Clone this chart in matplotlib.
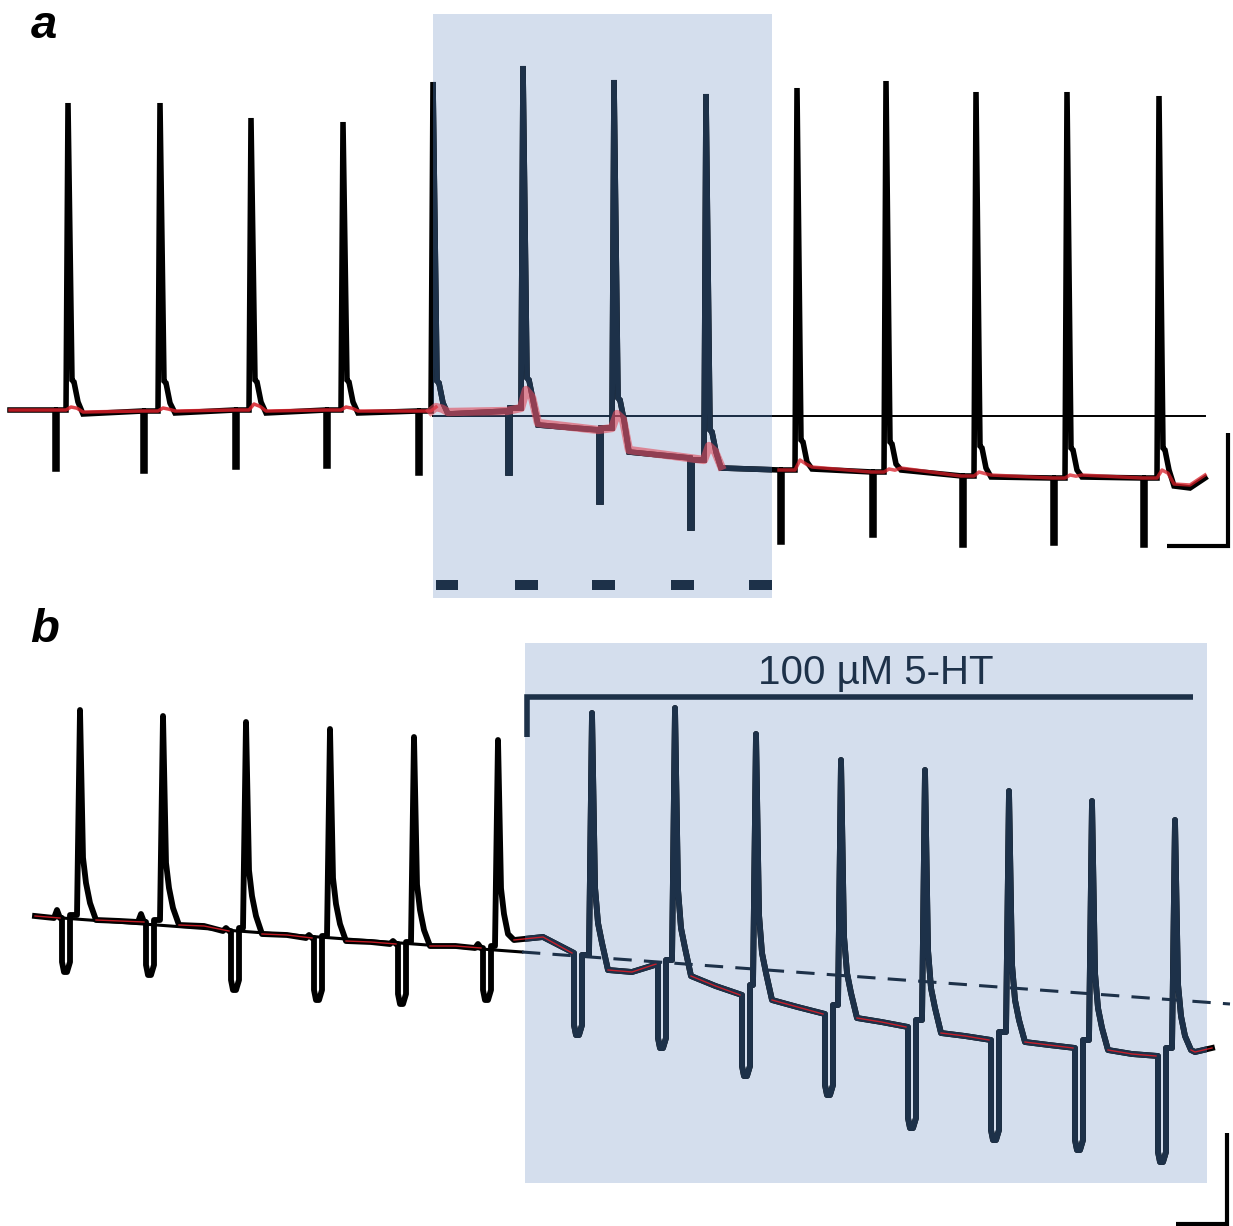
import numpy as np
import matplotlib.pyplot as plt
from matplotlib.patches import Rectangle

# ---- panel a : events (x = time in px, y = level in px, y grows down)
a_art_x    = [55, 143, 235, 326, 418, 508, 599, 690, 780, 872, 962, 1053, 1143]
a_art_low  = [469, 471, 467, 466, 473, 473, 502, 528, 542, 535, 545, 543, 545]
a_spk_x    = [68, 160, 251, 343, 433, 523, 614, 706, 797, 886, 976, 1067, 1159]
a_spk_peak = [103, 103, 118, 122, 82, 66, 80, 94, 88, 81, 92, 92, 96]
a_lvl_pre  = [410, 411, 410, 410, 411, 411, 430, 458, 470, 472, 476, 478, 478]
a_lvl_gap  = [410, 411, 410, 410, 411, 408, 428, 460, 470, 472, 476, 478, 478]
a_lvl_post = [414, 413, 413, 413, 414, 425, 452, 468, 469, 470, 477, 477, 486]
a_red_hump = [3, 3, 6, 3, 4, 18, 14, 14, 10, 3, 4, 3, 8]
a_start = (10, 410)
a_tail_x = [1190, 1205]
a_tail_y = [488, 478]
a_ref_y = 416
a_puffs = [(436, 22), (515, 23), (592, 23), (671, 23), (749, 23)]

# ---- panel b
b_art_x    = [66, 150, 235, 318, 402, 487, 578, 662, 746, 829, 912, 995, 1079, 1162]
b_art_low  = [972, 975, 990, 1000, 1004, 1000, 1035, 1048, 1076, 1095, 1128, 1140, 1150, 1162]
b_spk_x    = [80, 163, 246, 330, 414, 498, 592, 675, 756, 841, 925, 1009, 1092, 1175]
b_spk_peak = [710, 716, 722, 729, 737, 740, 713, 708, 734, 760, 770, 791, 801, 820]
b_lvl_pre  = [918, 922, 931, 938, 944, 948, 953, 964, 995, 1014, 1027, 1040, 1048, 1056]
b_lvl_gap  = [915, 920, 928, 936, 942, 946, 955, 960, 985, 1005, 1020, 1032, 1040, 1048]
b_lvl_post = [920, 925, 934, 941, 946, 940, 970, 976, 1000, 1018, 1033, 1042, 1050, 1050]
b_lvl_mid  = [921, 926, 935, 942, 946, 937, 972, 986, 1007, 1022, 1036, 1045, 1054]
b_pre_bump = [8, 8, 3, 3, 3, 4, 0, 0, 0, 0, 0, 0, 0, 0]
b_start = (35, 916)
b_tail_x = [1195, 1212]
b_tail_y = [1052, 1048]
b_fit = [(35, 916), (522, 952), (1230, 1004)]   # baseline fit, solid then extrapolated

navy = '#1d3149'
shade = '#d4deed'
red = '#d81e28'


def trace_a():
    xs, ys = [a_start[0]], [a_start[1]]
    rx, ry = [a_start[0]], [a_start[1]]
    for i in range(len(a_spk_x)):
        ax_, lo, sx, pk = a_art_x[i], a_art_low[i], a_spk_x[i], a_spk_peak[i]
        lb, lg, la = a_lvl_pre[i], a_lvl_gap[i], a_lvl_post[i]
        xs += [ax_, ax_, ax_ + 2, ax_ + 2, sx - 2, sx, sx + 4, sx + 6, sx + 10, sx + 15]
        ys += [lb, lo, lo, lg, lg, pk, lg - 30, lg - 28, lg - 8, la]
        h = a_red_hump[i]
        rx += [ax_ - 1, sx - 2, sx + 3, sx + 9, sx + 15]
        ry += [lb, lg, lg - h, lg - h * 0.6, la - 2]
    xs += a_tail_x
    ys += a_tail_y
    rx += a_tail_x
    ry += [y - 3 for y in a_tail_y]
    return np.array(xs), np.array(ys), np.array(rx), np.array(ry)


def trace_b():
    xs, ys = [b_start[0]], [b_start[1]]
    rx, ry = [b_start[0]], [b_start[1]]
    n = len(b_spk_x)
    for i in range(n):
        ax_, lo, sx, pk = b_art_x[i], b_art_low[i], b_spk_x[i], b_spk_peak[i]
        lb, lg, la = b_lvl_pre[i], b_lvl_gap[i], b_lvl_post[i]
        bb = b_pre_bump[i]
        if bb:
            xs += [ax_ - 12, ax_ - 9, ax_ - 6]
            ys += [lb, lb - bb, lb]
        xs += [ax_ - 4, ax_ - 4, ax_ - 2, ax_ + 1, ax_ + 4, ax_ + 4,
               sx - 3, sx, sx + 3, sx + 6, sx + 10, sx + 16]
        ys += [lb, lo - 10, lo, lo, lo - 10, lg,
               lg, pk, pk + 0.72 * (lg - pk), lg - 32, lg - 12, la]
        # red overlay only on the quiet stretches
        rx += [ax_ - 6, np.nan, sx + 16]
        ry += [lb, np.nan, la]
        if i < n - 1:
            xm = (sx + 16 + b_art_x[i + 1] - 6) / 2
            xs.append(xm)
            ys.append(b_lvl_mid[i])
            rx.append(xm)
            ry.append(b_lvl_mid[i])
    xs += b_tail_x
    ys += b_tail_y
    rx += b_tail_x
    ry += b_tail_y
    return np.array(xs), np.array(ys), np.array(rx), np.array(ry)


fig = plt.figure(figsize=(12.33, 12.26), dpi=100)
ax = fig.add_axes([0, 0, 1, 1])
ax.set_xlim(0, 1233)
ax.set_ylim(1226, 0)
ax.axis('off')

# ---------------- panel a
box_a = Rectangle((433, 14), 339, 584, facecolor=shade, edgecolor='none', zorder=0)
ax.add_patch(box_a)
ax.broken_barh(a_puffs, (580, 10), facecolors=navy, zorder=3)

xa, ya, rxa, rya = trace_a()
ax.plot([433, 1205], [a_ref_y, a_ref_y], color='black', lw=1.4, zorder=2)
ln = ax.plot([433, 772], [a_ref_y, a_ref_y], color=navy, lw=1.4, zorder=2)[0]
ln.set_clip_path(box_a)
ax.plot(xa, ya, color='black', lw=4, solid_joinstyle='miter', zorder=3)
ln = ax.plot(xa, ya, color=navy, lw=4, solid_joinstyle='miter', zorder=3)[0]
ln.set_clip_path(box_a)

left = rxa <= 436
mid = (rxa >= 430) & (rxa <= 775)
right = rxa >= 770
ax.plot(rxa[left], rya[left], color=red, lw=2.5, alpha=0.85, zorder=4)
ax.plot(rxa[mid], rya[mid], color='#e04a5a', lw=6, alpha=0.6, zorder=4)
ax.plot(rxa[right], rya[right], color=red, lw=2.5, alpha=0.75, zorder=4)

# scale bar a
ax.plot([1167, 1228, 1228], [546, 546, 433], color='black', lw=3,
        solid_joinstyle='miter', solid_capstyle='butt', zorder=5)

ax.text(31, 38, 'a', fontsize=34, fontweight='bold', fontstyle='italic',
        family='Liberation Sans', va='baseline', ha='left')

# ---------------- panel b
box_b = Rectangle((525, 643), 682, 540, facecolor=shade, edgecolor='none', zorder=0)
ax.add_patch(box_b)

xb, yb, rxb, ryb = trace_b()
ax.plot([b_fit[0][0], b_fit[1][0]], [b_fit[0][1], b_fit[1][1]], color='black', lw=2.2, zorder=2)
ax.plot([b_fit[1][0], b_fit[2][0]], [b_fit[1][1], b_fit[2][1]], color=navy, lw=2.2,
        dashes=(6, 4), zorder=5)
ax.plot(xb, yb, color='black', lw=4.2, solid_joinstyle='round', zorder=3)
ln = ax.plot(xb, yb, color=navy, lw=4.2, solid_joinstyle='round', zorder=3)[0]
ln.set_clip_path(box_b)
ax.plot(rxb, ryb, color=red, lw=1.0, alpha=0.9, zorder=4)

# drug bar
ax.plot([527, 527, 1193], [737, 697, 697], color=navy, lw=4,
        solid_joinstyle='miter', solid_capstyle='butt', zorder=5)
ax.text(876, 684, '100 µM 5-HT', fontsize=29, color=navy, family='Liberation Sans',
        ha='center', va='baseline', zorder=5)

# scale bar b
ax.plot([1176, 1227, 1227], [1224, 1224, 1133], color='black', lw=3,
        solid_joinstyle='miter', solid_capstyle='butt', zorder=5)

ax.text(30, 642, 'b', fontsize=34, fontweight='bold', fontstyle='italic',
        family='Liberation Sans', va='baseline', ha='left')

fig.savefig('out.png', dpi=100)
